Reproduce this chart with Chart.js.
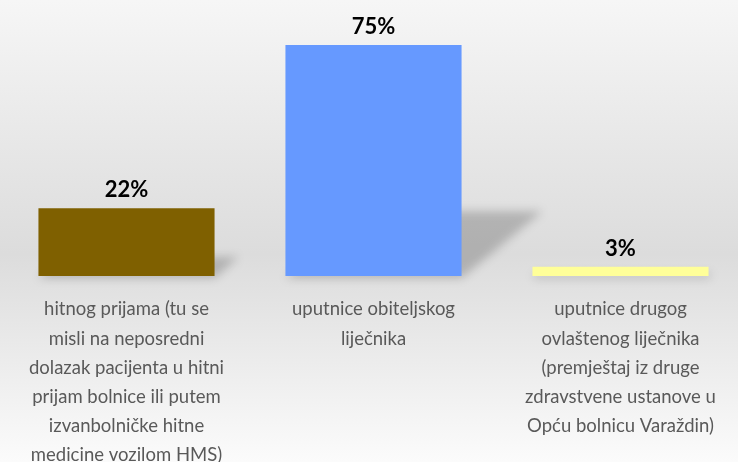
<!DOCTYPE html>
<html>
<head>
<meta charset="utf-8">
<script src="https://cdn.jsdelivr.net/npm/chart.js@4"></script>
<style>
  html, body { margin: 0; padding: 0; overflow: hidden; }
  #wrap { width: 744px; height: 462px; }
</style>
</head>
<body>
<div id="wrap"><canvas id="chart"></canvas></div>
<script>
const categories = [
  ['hitnog prijama (tu se', 'misli na neposredni', 'dolazak pacijenta u hitni', 'prijam bolnice ili putem', 'izvanbolničke hitne', 'medicine vozilom HMS)'],
  ['uputnice obiteljskog', 'liječnika'],
  ['uputnice drugog', 'ovlaštenog liječnika', '(premještaj iz druge', 'zdravstvene ustanove u', 'Opću bolnicu Varaždin)']
]
const shares = [22, 75, 3]
const barColors = ['#7f6000', '#6699ff', '#ffff99']

const FONT = 'Lato, "Open Sans", sans-serif'

// grey card background, darker through the middle
const background = {
  id: 'background',
  beforeDraw(chart) {
    const { ctx, width, height } = chart
    const g = ctx.createLinearGradient(0, 0, 0, height)
    g.addColorStop(0, '#f6f6f6')
    g.addColorStop(0.55, '#dcdcdc')
    g.addColorStop(1, '#fbfbfb')
    ctx.save()
    ctx.fillStyle = g
    ctx.fillRect(0, 0, width, height)
    ctx.restore()
  }
}

// slanted shadow cast behind each bar
const barShadow = {
  id: 'barShadow',
  beforeDatasetsDraw(chart) {
    const { ctx } = chart
    const meta = chart.getDatasetMeta(0)
    ctx.save()
    ctx.filter = 'blur(5px)'
    ctx.fillStyle = 'rgba(0,0,0,0.2)'
    meta.data.forEach(bar => {
      const left = bar.x - bar.width / 2
      const right = bar.x + bar.width / 2
      const h = bar.base - bar.y
      const dx = h * 0.35
      const dy = h * 0.28
      ctx.beginPath()
      ctx.moveTo(left, bar.base + 2)
      ctx.lineTo(right, bar.base + 2)
      ctx.lineTo(right + dx, bar.base - dy)
      ctx.lineTo(left + dx, bar.base - dy)
      ctx.closePath()
      ctx.fill()
    })
    ctx.restore()
  }
}

// bold percentage above each bar
const valueLabels = {
  id: 'valueLabels',
  afterDatasetsDraw(chart) {
    const { ctx } = chart
    const meta = chart.getDatasetMeta(0)
    ctx.save()
    ctx.font = 'bold 22px ' + FONT
    ctx.fillStyle = '#000000'
    ctx.textAlign = 'center'
    ctx.textBaseline = 'alphabetic'
    meta.data.forEach((bar, i) => {
      ctx.fillText(shares[i] + '%', bar.x, bar.y - 11)
    })
    ctx.restore()
  }
}

new Chart(document.getElementById('chart'), {
  type: 'bar',
  data: {
    labels: categories,
    datasets: [
      {
        data: shares,
        backgroundColor: barColors,
        borderWidth: 0,
        barPercentage: 0.713,
        categoryPercentage: 1,
      },
    ],
  },
  options: {
    responsive: true,
    maintainAspectRatio: false,
    animation: false,
    layout: { padding: { left: 3, right: 0, top: 0, bottom: 0 } },
    plugins: {
      legend: { display: false },
      tooltip: { enabled: false },
    },
    scales: {
      x: {
        grid: { display: false },
        border: { display: false },
        afterFit(scale) {
          scale.height = 186
        },
        ticks: {
          autoSkip: false,
          maxRotation: 0,
          padding: 11,
          color: '#595959',
          font: { family: FONT, size: 18.5, lineHeight: 1.57 },
        },
      },
      y: {
        display: false,
        min: 0,
        max: 89.6,
      },
    },
  },
  plugins: [background, barShadow, valueLabels],
})
</script>
</body>
</html>
